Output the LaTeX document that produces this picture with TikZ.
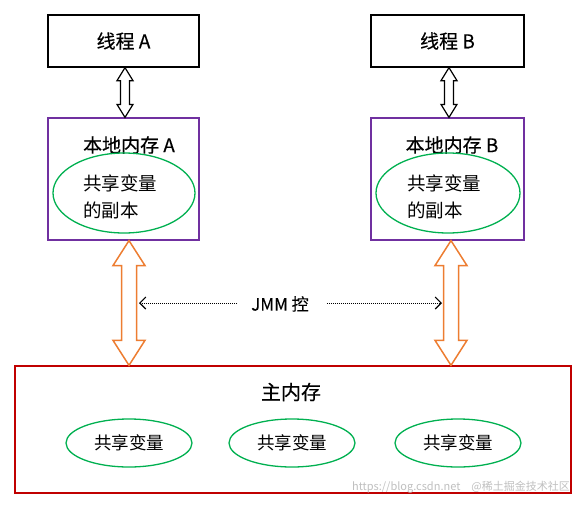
\documentclass[tikz,border=0pt]{standalone}
\usepackage{fontspec}
\setmainfont{Noto Sans CJK SC}[FakeBold=0.3]
\newfontfamily\thinfont{Noto Sans CJK SC}
\usetikzlibrary{calc,arrows.meta}
\definecolor{orng}{RGB}{237,125,49}
\definecolor{purp}{RGB}{112,48,160}
\definecolor{grn}{RGB}{0,176,80}
\definecolor{redd}{RGB}{192,0,0}
% double block arrow: #1 style, #2 top point, #3 bottom point, #4 half head, #5 half shaft, #6 head length
\newcommand\blockdbl[6]{%
  \draw[#1] let \p1=(#2), \p2=(#3) in
    (\x1,\y1) -- (\x1+#4,\y1-#6) -- (\x1+#5,\y1-#6) -- (\x1+#5,\y2+#6) -- (\x1+#4,\y2+#6)
    -- (\x1,\y2) -- (\x1-#4,\y2+#6) -- (\x1-#5,\y2+#6) -- (\x1-#5,\y1-#6) -- (\x1-#4,\y1-#6) -- cycle;}
\begin{document}
\begin{tikzpicture}[x=1pt,y=-1pt,
  thread/.style={draw=black, line width=1.3pt, minimum height=52pt, inner sep=0pt,
    font=\fontsize{19}{22}\selectfont},
  local/.style={draw=purp, line width=1.2pt, minimum height=122pt, inner sep=0pt},
  title/.style={font=\fontsize{19}{22}\selectfont, inner sep=0pt},
  ell/.style={draw=grn, line width=1.3pt},
  ctext/.style={align=left, font=\thinfont\fontsize{18.5}{27}\selectfont, inner sep=0pt},
  stext/.style={font=\thinfont\fontsize{17.5}{20}\selectfont, inner sep=0pt},
  dots/.style={dash pattern=on 1pt off 1pt, line width=1pt,
    -{Straight Barb[length=6pt,width=12pt,line width=1.1pt]}}
]
\useasboundingbox (0,0) rectangle (582,509);
% threads
\node[thread, minimum width=151pt] (tA) at (123.5,41) {线程 A};
\node[thread, minimum width=153pt] (tB) at (447.5,41) {线程 B};
% local memories
\node[local, minimum width=151pt] (lA) at (123.5,179) {};
\node[local, minimum width=153pt] (lB) at (447.5,179) {};
\node[title] (lAt) at (129,145) {本地内存 A};
\node[title] (lBt) at (452,145) {本地内存 B};
\draw[ell] (124,193) ellipse [x radius=71, y radius=40];
\draw[ell] (448,193) ellipse [x radius=72, y radius=40];
\node[ctext, anchor=west] (cA) at (83,197) {共享变量\\的副本};
\node[ctext, anchor=west] (cB) at (407,197) {共享变量\\的副本};
% main memory
\node[draw=redd, line width=1.3pt, minimum width=556pt, minimum height=127pt, inner sep=0pt] (main) at (293,429.5) {};
\node[font=\fontsize{20}{23}\selectfont, inner sep=0pt] (mt) at (291,392) {主内存};
\draw[ell] (129,443) ellipse [x radius=63, y radius=24];
\draw[ell] (292,443) ellipse [x radius=63, y radius=24];
\draw[ell] (458,443) ellipse [x radius=63, y radius=24];
\node[stext] (s1) at (129,443) {共享变量};
\node[stext] (s2) at (292,443) {共享变量};
\node[stext] (s3) at (458,443) {共享变量};
% black double arrows
\blockdbl{black, line width=1.2pt, fill=white}{$(tA.south)+(1.5,0)$}{$(lA.north)+(1.5,0)$}{8}{4.5}{13}
\blockdbl{black, line width=1.2pt, fill=white}{$(tB.south)+(1.5,0)$}{$(lB.north)+(1.5,0)$}{8}{4.5}{13}
% orange double arrows
\coordinate (oA1) at ($(lA.south)+(5.5,0)$);
\coordinate (oB1) at ($(lB.south)+(3.5,0)$);
\blockdbl{orng, line width=1.5pt, fill=white}{oA1}{main.north}{16}{7.5}{25}
\blockdbl{orng, line width=1.5pt, fill=white}{oB1}{main.north}{16}{7.5}{25}
% JMM control
\node[font=\fontsize{17}{20}\selectfont, inner sep=0pt] (jmm) at (280,304) {JMM 控};
\coordinate (jl) at (139,303);
\coordinate (jr) at (442,303);
\draw[dots] ($(jmm.west)+(-14,-1)$) -- (jl);
\draw[dots] ($(jmm.east)+(18,-1)$) -- (jr);
% watermark
\node[font=\thinfont\fontsize{11}{13}\selectfont, text=black!25, anchor=east, inner sep=0pt] (wm) at (570,487) {https://blog.csdn.net\quad @稀土掘金技术社区};
\end{tikzpicture}
\end{document}
